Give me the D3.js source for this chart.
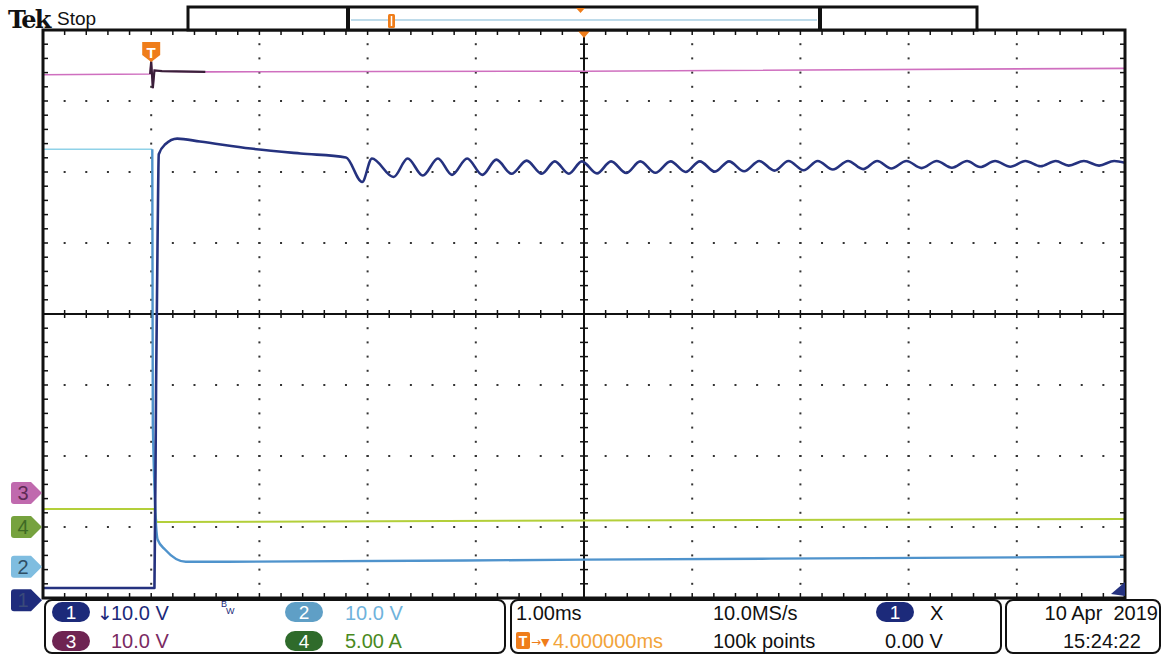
<!DOCTYPE html>
<meta charset="utf-8">
<head>
  <style>
    body { margin: 0; background: #fff; }
    svg text { font-family: "Liberation Sans", Arial, sans-serif; }
    .frame { fill: none; stroke: #111; stroke-width: 3; }
    .box { fill: #fff; stroke: #111; stroke-width: 2; }
    .sym { font-family: "DejaVu Sans", sans-serif; }
  </style>
  <script type="text/javascript" src="https://cdn.jsdelivr.net/npm/d3@7"></script>
</head>
<body>
<script>

// time relative to trigger, ms (1.00 ms/div, trigger 4 div left of centre)
var timeDomain = [-1, 9];
var divDomain = [-4, 4];

// channel setup: V/div (A/div for ch4) and ground marker position in divisions
var chNames = ["1", "2", "3", "4"];
var chScale = [10, 10, 10, 5];
var chOffset = [-4.03, -3.56, -2.52, -3.0];

// ch1 (navy), peaks and troughs of the ringing
var ch1T = [-1.0, 0.03, 0.045, 0.06, 0.07, 0.13, 0.24, 0.45, 0.92, 1.38, 1.80, 1.95, 2.04, 2.24, 2.37, 2.51, 2.65, 2.78, 2.92, 3.06, 3.19, 3.33, 3.47, 3.61, 3.73, 3.86, 3.98, 4.12, 4.25, 4.39, 4.52, 4.66, 4.80, 4.94, 5.07, 5.21, 5.34, 5.48, 5.62, 5.76, 5.89, 6.03, 6.16, 6.30, 6.44, 6.58, 6.71, 6.84, 6.98, 7.12, 7.26, 7.40, 7.54, 7.66, 7.80, 7.94, 8.08, 8.22, 8.36, 8.48, 8.62, 8.76, 8.90, 9.0];
var ch1V = [1.7, 1.7, 30.0, 52.3, 62.8, 64.2, 65.0, 64.6, 63.6, 62.9, 62.35, 58.9, 62.2, 59.6, 62.2, 59.8, 62.2, 59.9, 62.2, 59.9, 62.05, 60.05, 61.9, 60.05, 61.8, 60.05, 61.8, 60.1, 61.8, 60.15, 61.8, 60.2, 61.8, 60.3, 61.8, 60.35, 61.8, 60.4, 61.85, 60.5, 61.85, 60.55, 61.85, 60.65, 61.85, 60.7, 61.85, 60.8, 61.85, 60.85, 61.85, 60.9, 61.85, 61.0, 61.85, 61.05, 61.85, 61.1, 61.85, 61.2, 61.85, 61.2, 61.85, 61.6];

// ch2 (light blue)
var ch2T = [-1.0, 0.01, 0.015, 0.06, 0.13, 0.23, 0.32, 0.6, 4.0, 9.0];
var ch2V = [58.8, 58.8, 20.0, 3.8, 2.4, 1.1, 0.7, 0.7, 1.0, 1.4];

// ch3 (magenta)
var ch3T = [-1.0, -0.01, 0.0, 0.015, 0.03, 0.1, 0.5, 4.0, 9.0];
var ch3V = [58.9, 59.0, 60.8, 57.0, 59.5, 59.4, 59.3, 59.4, 59.8];

// ch4 (current, yellow green)
var ch4T = [-1.0, 0.03, 0.05, 0.1, 4.0, 9.0];
var ch4V = [1.27, 1.27, 0.35, 0.35, 0.46, 0.57];

// status readouts
var row1Labels = ["10.0 V", "10.0 V"];
var row2Labels = ["10.0 V", "5.00 A"];
var timebase = "1.00ms", delay = "4.000000ms", sampleRate = "10.0MS/s", recLength = "100k points";
var trigLevel = "0.00 V", dateText = "10 Apr  2019", timeText = "15:24:22";

var chColor = ["#25327f", "#4f93cc", "#cf6fbf", "#b3cf3a"];
var markFill = ["#1f2c7c", "#7fbde0", "#c06aae", "#76a23e"];
var markText = ["#3a4a7a", "#2f4f66", "#5e2a55", "#3f6a25"];

var width = 1164, height = 655;
var pLeft = 43, pRight = 1125, pTop = 30, pBottom = 598;

var svg = d3.select("body").append("svg")
    .attr("width", width)
    .attr("height", height);

var x = d3.scaleLinear().domain(timeDomain).range([pLeft, pRight]);
var y = d3.scaleLinear().domain(divDomain).range([pBottom, pTop]);

var xMinor = d3.range(0, 51).map(function(i) { return -1 + i * 0.2; });
var yMinor = d3.range(0, 41).map(function(i) { return -4 + i * 0.2; });
var xMajor = d3.range(-1, 10);
var yMajor = d3.range(-4, 5);

svg.append("defs").append("clipPath").attr("id", "plotclip")
  .append("rect").attr("x", pLeft).attr("y", pTop)
  .attr("width", pRight - pLeft).attr("height", pBottom - pTop);

// ---- graticule ----
var grid = svg.append("g");
xMajor.slice(1, -1).forEach(function(t) {
  if (t === 4) return;
  grid.selectAll(null).data(yMinor.slice(1, -1)).enter().append("rect")
    .attr("x", x(t) - 1).attr("y", function(d) { return y(d) - 1; })
    .attr("width", 2).attr("height", 2).attr("fill", "#333");
});
yMajor.slice(1, -1).forEach(function(v) {
  if (v === 0) return;
  grid.selectAll(null).data(xMinor.slice(1, -1)).enter().append("rect")
    .attr("x", function(d) { return x(d) - 1; }).attr("y", y(v) - 1)
    .attr("width", 2).attr("height", 2).attr("fill", "#333");
});

// centre cross with minor ticks
grid.append("line").attr("x1", pLeft).attr("x2", pRight).attr("y1", y(0)).attr("y2", y(0))
  .attr("stroke", "#111").attr("stroke-width", 2);
grid.append("line").attr("x1", x(4)).attr("x2", x(4)).attr("y1", pTop).attr("y2", pBottom)
  .attr("stroke", "#111").attr("stroke-width", 2);
grid.selectAll(null).data(xMinor).enter().append("line")
  .attr("x1", function(d) { return x(d); }).attr("x2", function(d) { return x(d); })
  .attr("y1", y(0) - 4).attr("y2", y(0) + 4).attr("stroke", "#111").attr("stroke-width", 1.5);
grid.selectAll(null).data(yMinor).enter().append("line")
  .attr("y1", function(d) { return y(d); }).attr("y2", function(d) { return y(d); })
  .attr("x1", x(4) - 4).attr("x2", x(4) + 4).attr("stroke", "#111").attr("stroke-width", 1.5);

// edge ticks
grid.selectAll(null).data(xMinor).enter().append("line")
  .attr("x1", function(d) { return x(d); }).attr("x2", function(d) { return x(d); })
  .attr("y1", pTop).attr("y2", pTop + 5).attr("stroke", "#111").attr("stroke-width", 1.5);
grid.selectAll(null).data(xMinor).enter().append("line")
  .attr("x1", function(d) { return x(d); }).attr("x2", function(d) { return x(d); })
  .attr("y1", pBottom - 5).attr("y2", pBottom).attr("stroke", "#111").attr("stroke-width", 1.5);
grid.selectAll(null).data(yMinor).enter().append("line")
  .attr("y1", function(d) { return y(d); }).attr("y2", function(d) { return y(d); })
  .attr("x1", pLeft).attr("x2", pLeft + 5).attr("stroke", "#111").attr("stroke-width", 1.5);
grid.selectAll(null).data(yMinor).enter().append("line")
  .attr("y1", function(d) { return y(d); }).attr("y2", function(d) { return y(d); })
  .attr("x1", pRight - 5).attr("x2", pRight).attr("stroke", "#111").attr("stroke-width", 1.5);

// ---- traces ----
function toPoints(ts, vs, ch) {
  return ts.map(function(t, i) { return [t, vs[i] / chScale[ch] + chOffset[ch]]; });
}
var line = d3.line()
  .x(function(d) { return x(d[0]); })
  .y(function(d) { return y(d[1]); });

var traces = svg.append("g").attr("clip-path", "url(#plotclip)");

var ch3 = toPoints(ch3T, ch3V, 2);
traces.append("path").datum(ch3)
  .attr("d", line.curve(d3.curveLinear))
  .attr("fill", "none").attr("stroke", chColor[2]).attr("stroke-width", 1.6);
// dark noise burst right after the trigger on ch3
traces.append("path").datum(ch3.filter(function(d) { return d[0] >= -0.01 && d[0] <= 0.5; }))
  .attr("d", line.curve(d3.curveLinear))
  .attr("fill", "none").attr("stroke", "#3a1f3a").attr("stroke-width", 2.2);

var ch4 = toPoints(ch4T, ch4V, 3);
traces.append("path").datum(ch4)
  .attr("d", line.curve(d3.curveLinear))
  .attr("fill", "none").attr("stroke", chColor[3]).attr("stroke-width", 2);

var ch2 = toPoints(ch2T, ch2V, 1);
traces.append("path").datum(ch2.filter(function(d) { return d[0] <= 0.01; }))
  .attr("d", line.curve(d3.curveLinear))
  .attr("fill", "none").attr("stroke", "#8fd2e8").attr("stroke-width", 1.6);
traces.append("path").datum(ch2.filter(function(d) { return d[0] >= 0.01; }))
  .attr("d", line.curve(d3.curveMonotoneX))
  .attr("fill", "none").attr("stroke", chColor[1]).attr("stroke-width", 2.4);

var ch1 = toPoints(ch1T, ch1V, 0);
traces.append("path").datum(ch1)
  .attr("d", line.curve(d3.curveMonotoneX))
  .attr("fill", "none").attr("stroke", chColor[0]).attr("stroke-width", 2.6)
  .attr("stroke-linejoin", "round");

// frame on top
svg.append("rect").attr("class", "frame")
  .attr("x", pLeft).attr("y", pTop).attr("width", pRight - pLeft).attr("height", pBottom - pTop);

// ---- markers ----
// trigger position marker
var tx = x(0);
svg.append("path")
  .attr("d", "M" + (tx - 9) + ",42 h18 v13 l-9,7 l-9,-7 z")
  .attr("fill", "#ef7d1a");
svg.append("text").attr("x", tx).attr("y", 58).attr("text-anchor", "middle")
  .attr("font-size", 15).attr("font-weight", "bold").attr("fill", "#fff").text("T");

// horizontal position marker at top centre
svg.append("path").attr("d", "M" + (x(4) - 6) + "," + (pTop + 1) + " h12 l-6,7 z").attr("fill", "#ef7d1a");

// trigger level marker, bottom right
svg.append("path").attr("d", "M" + (pRight - 14) + "," + (pBottom - 4) + " L" + pRight + "," + (pBottom - 16) + " L" + pRight + "," + (pBottom - 2) + " z")
  .attr("fill", chColor[0]);

// channel ground markers on the left edge
chNames.forEach(function(name, i) {
  var cy = y(chOffset[i]);
  var g = svg.append("g");
  g.append("path")
    .attr("d", "M14," + (cy - 11) + " H31 L" + (pLeft - 1) + "," + cy + " L31," + (cy + 11) + " H14 Q11," + (cy + 11) + " 11," + (cy + 8) + " V" + (cy - 8) + " Q11," + (cy - 11) + " 14," + (cy - 11) + " z")
    .attr("fill", markFill[i]);
  g.append("text").attr("x", 23).attr("y", cy + 7).attr("text-anchor", "middle")
    .attr("font-size", 20).attr("fill", markText[i]).text(name);
});

// ---- header ----
svg.append("text").attr("x", 8).attr("y", 28)
  .style("font-family", "'DejaVu Serif', serif").attr("font-weight", "bold")
  .attr("font-size", 24).attr("letter-spacing", -1.8).attr("fill", "#111").text("Tek");
svg.append("text").attr("x", 57).attr("y", 25).attr("font-size", 19).attr("fill", "#111").text("Stop");

svg.append("rect").attr("x", 188).attr("y", 7).attr("width", 789).attr("height", 23)
  .attr("fill", "#fff").attr("stroke", "#111").attr("stroke-width", 3);
svg.append("line").attr("x1", 348).attr("x2", 348).attr("y1", 6).attr("y2", 31).attr("stroke", "#111").attr("stroke-width", 4);
svg.append("line").attr("x1", 820).attr("x2", 820).attr("y1", 6).attr("y2", 31).attr("stroke", "#111").attr("stroke-width", 4);
svg.append("line").attr("x1", 351).attr("x2", 817).attr("y1", 20).attr("y2", 20).attr("stroke", "#7fb7d6").attr("stroke-width", 1.2);
svg.append("rect").attr("x", 388).attr("y", 14).attr("width", 7).attr("height", 14).attr("rx", 1.5).attr("fill", "#ef7d1a");
svg.append("line").attr("x1", 391.5).attr("x2", 391.5).attr("y1", 16).attr("y2", 26).attr("stroke", "#fff").attr("stroke-width", 1.5);
svg.append("path").attr("d", "M576,8 h9 l-4.5,5 z").attr("fill", "#ef7d1a");

// ---- status bar ----
function box(x0, x1) {
  svg.append("rect").attr("class", "box").attr("x", x0).attr("y", 600)
    .attr("width", x1 - x0).attr("height", 53).attr("rx", 7);
}
box(45, 505);
box(511, 1001);
box(1006, 1160);

function pill(cx, cy, fill, txt) {
  svg.append("rect").attr("x", cx - 19).attr("y", cy - 10).attr("width", 38).attr("height", 20)
    .attr("rx", 10).attr("fill", fill);
  svg.append("text").attr("x", cx).attr("y", cy + 7).attr("text-anchor", "middle")
    .attr("font-size", 19).attr("fill", "#fff").text(txt);
}
function label(x0, yb, txt, col, anchor) {
  return svg.append("text").attr("x", x0).attr("y", yb).attr("font-size", 20)
    .attr("text-anchor", anchor || "start").attr("fill", col).text(txt);
}

pill(71, 612, "#1c2a7a", "1");
label(97, 620, "\u2193", "#1c2a7a").attr("class", "sym").attr("font-size", 19);
label(111, 620, row1Labels[0], "#1c2a7a");
svg.append("text").attr("x", 221).attr("y", 607).attr("font-size", 9).attr("fill", "#1c2a7a").text("B");
svg.append("text").attr("x", 226).attr("y", 614).attr("font-size", 9).attr("fill", "#1c2a7a").text("W");
pill(304, 612, "#5f9fc6", "2");
label(345, 620, row1Labels[1], "#6fb3dc");
pill(71, 641, "#6e2452", "3");
label(111, 648, row2Labels[0], "#7a2a62");
pill(304, 641, "#2f6b2b", "4");
label(345, 648, row2Labels[1], "#4a8a1e");

label(516, 620, timebase, "#111");
svg.append("rect").attr("x", 516).attr("y", 632).attr("width", 14).attr("height", 17).attr("rx", 2).attr("fill", "#ef7d1a");
svg.append("text").attr("x", 523).attr("y", 646).attr("text-anchor", "middle").attr("font-size", 14)
  .attr("font-weight", "bold").attr("fill", "#fff").text("T");
label(531, 646, "\u2192", "#ef7d1a").attr("class", "sym").attr("font-size", 12);
label(541, 646, "\u25BC", "#ef7d1a").attr("class", "sym").attr("font-size", 11);
label(553, 648, delay, "#f2a43a");
label(713, 620, sampleRate, "#111");
label(713, 648, recLength, "#111");
pill(895, 612, "#1c2a7a", "1");
label(930, 620, "X", "#111");
label(885, 648, trigLevel, "#111");
label(1158, 620, dateText, "#111", "end").style("white-space", "pre");
label(1063, 648, timeText, "#111");

</script>
</body>
